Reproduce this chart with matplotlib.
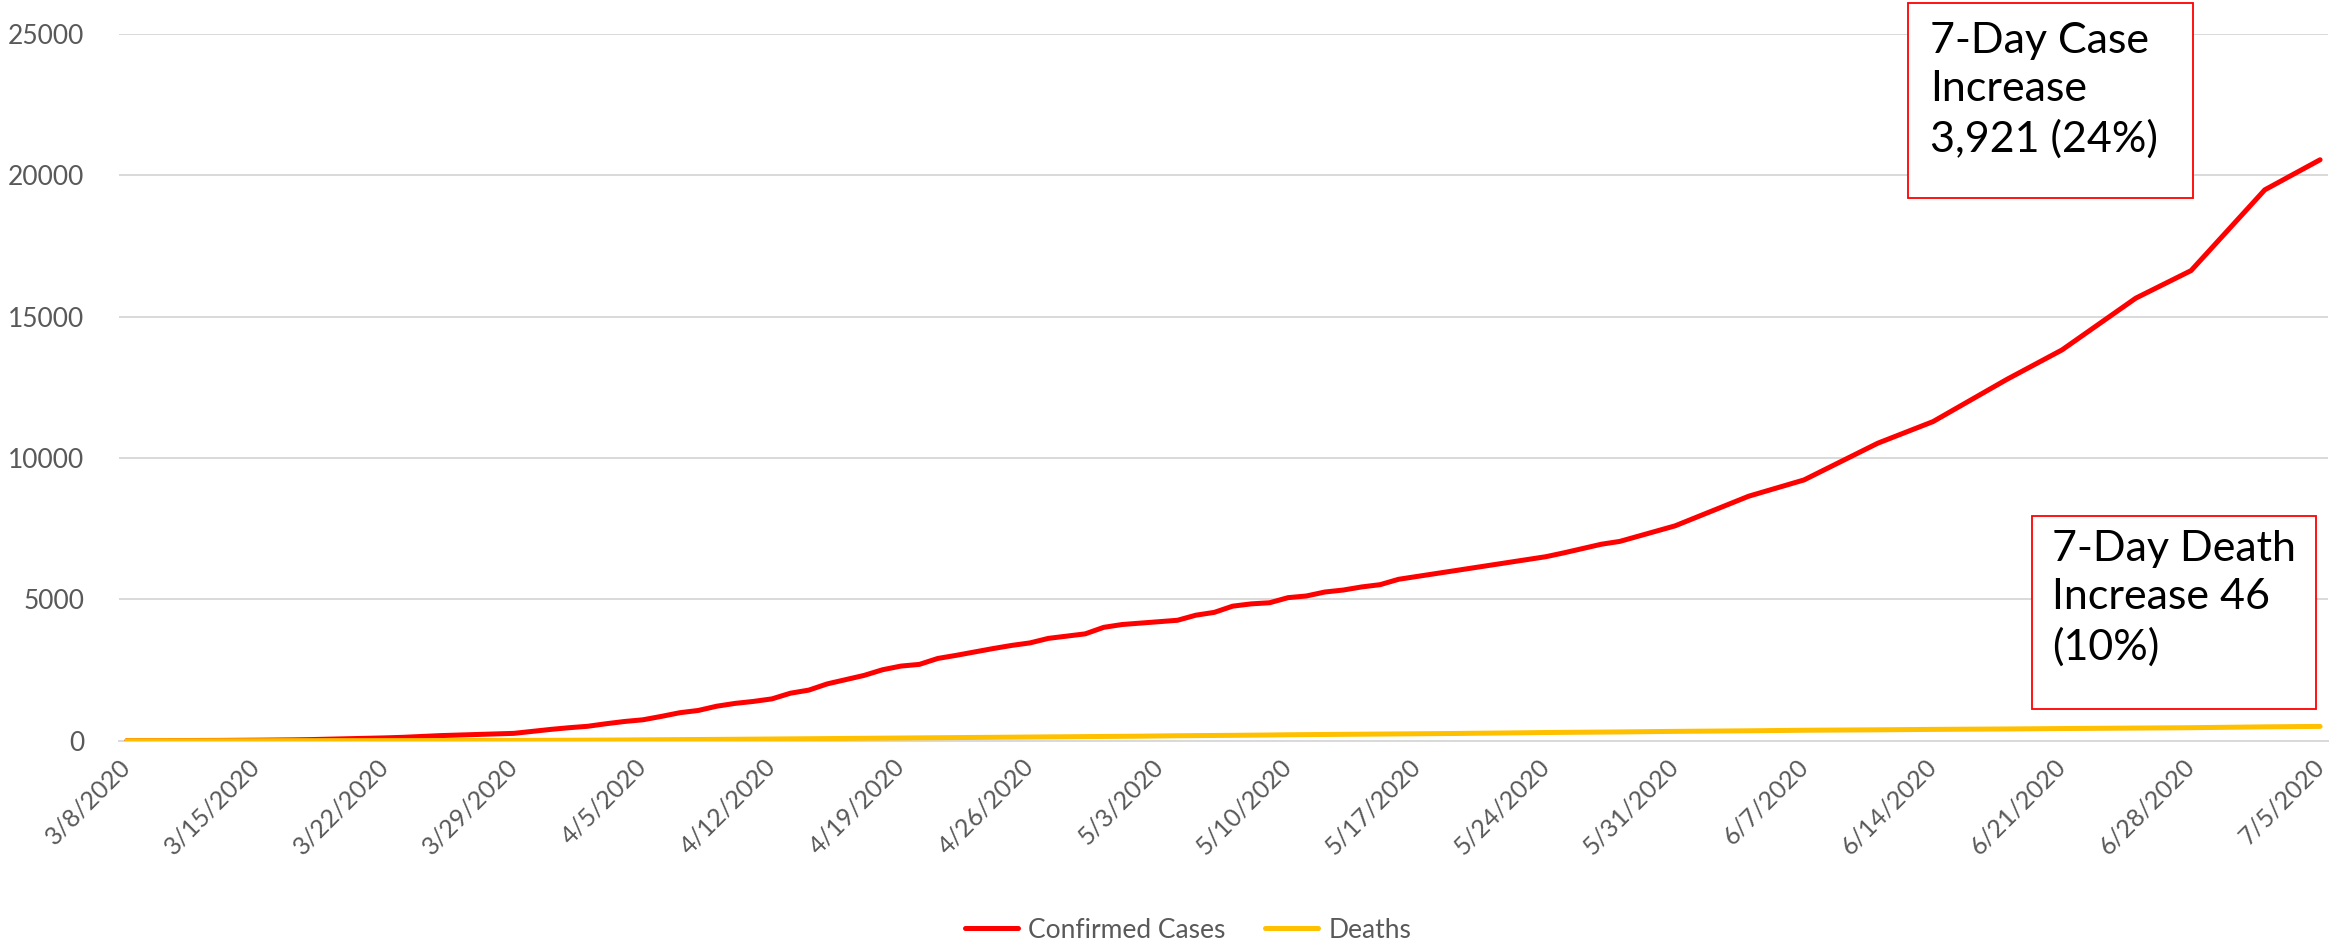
import matplotlib
matplotlib.use("Agg")
import matplotlib.pyplot as plt
import matplotlib.dates as mdates
import matplotlib.transforms as mtransforms
from matplotlib.patches import Rectangle
import pandas as pd

# ---------------- data ----------------
daily_start = "2020-03-08"
daily_cases = [2, 3, 4, 6, 8, 10, 14, 18, 24, 30, 40, 55, 70, 85, 100, 120, 150, 180, 200, 220,
               240, 260, 330, 400, 460, 510, 600, 680, 740, 860, 990, 1070, 1220, 1320, 1390, 1480,
               1680, 1790, 2010, 2160, 2310, 2510, 2640, 2700, 2910, 3020, 3140, 3260, 3370, 3460,
               3620, 3700, 3780, 4010, 4110, 4160, 4210, 4260, 4440, 4540, 4760, 4840, 4880, 5060,
               5120, 5260, 5330, 5440, 5520, 5710, 5810, 5910, 6010, 6110, 6210, 6310, 6410, 6510,
               6650, 6800, 6950, 7050]
daily_deaths = [0, 0, 0, 0, 0, 0, 0, 0, 1, 1, 1, 2, 2, 2, 3, 3, 4, 5, 6, 7,
                8, 10, 12, 14, 16, 19, 22, 25, 30, 34, 38, 42, 46, 50, 55, 60,
                65, 70, 75, 80, 85, 90, 95, 100, 105, 110, 115, 120, 125, 130,
                135, 140, 145, 150, 155, 160, 168, 175, 180, 185, 190, 196, 202, 210,
                215, 220, 225, 230, 235, 240, 245, 250, 255, 262, 268, 275, 282, 290,
                295, 300, 305, 310]
later_dates = ["2020-05-31", "2020-06-04", "2020-06-07", "2020-06-11", "2020-06-14", "2020-06-18",
               "2020-06-21", "2020-06-25", "2020-06-28", "2020-07-02", "2020-07-05"]
later_cases = [7600, 8650, 9225, 10524, 11289, 12780, 13825, 15655, 16630, 19487, 20551]
later_deaths = [330, 350, 370, 385, 400, 415, 430, 447, 460, 490, 506]

tick_start = "2020-03-08"
tick_end = "2020-07-05"
y_ticks = [0, 5000, 10000, 15000, 20000, 25000]
series_names = ["Confirmed Cases", "Deaths"]
series_colors = ["#FF0000", "#FFC000"]
case_note = "7-Day Case\nIncrease\n3,921 (24%)"
death_note = "7-Day Death\nIncrease 46\n(10%)"

# ---------------- build ----------------
dates = list(pd.date_range(daily_start, periods=len(daily_cases), freq="D")) + \
        list(pd.to_datetime(later_dates))
cases = daily_cases + later_cases
deaths = daily_deaths + later_deaths

plt.rcParams['font.family'] = ['Lato', 'DejaVu Sans']
W, H = 2331, 944
fig = plt.figure(figsize=(W / 100, H / 100), dpi=100)

ax_left, ax_right = 119, 2328
ax_top, ax_bottom = 34, 740.7
ax = fig.add_axes([ax_left / W, 1 - ax_bottom / H, (ax_right - ax_left) / W, (ax_bottom - ax_top) / H])

ax.plot(dates, cases, color=series_colors[0], lw=3.6, solid_capstyle='round',
        solid_joinstyle='round', label=series_names[0], zorder=3)
ax.plot(dates, deaths, color=series_colors[1], lw=3.6, solid_capstyle='round',
        solid_joinstyle='round', label=series_names[1], zorder=3)

t0 = mdates.date2num(pd.Timestamp(tick_start))
t1 = mdates.date2num(pd.Timestamp(tick_end))
ax.set_xlim(t0 - 0.43, t1 + 0.43)
ax.set_ylim(0, 25000)

ticks = pd.date_range(tick_start, tick_end, freq="7D")
ax.set_xticks(list(ticks))
labels = ax.set_xticklabels([f"{d.month}/{d.day}/{d.year}" for d in ticks], rotation=45, ha='right',
                            va='center', rotation_mode='anchor', fontsize=18, color='#595959')
shift = mtransforms.ScaledTranslation(-6 / 100, 0, fig.dpi_scale_trans)
for lab in labels:
    lab.set_transform(lab.get_transform() + shift)
ax.set_yticks(y_ticks)
ax.set_yticklabels([str(v) for v in y_ticks], fontsize=19, color='#595959')
ax.tick_params(axis='both', length=0)
ax.tick_params(axis='y', pad=25)
ax.tick_params(axis='x', pad=16)

ax.grid(axis='y', color='#D9D9D9', lw=1.4, zorder=0)
ax.set_axisbelow(True)
for s in ['top', 'right', 'left']:
    ax.spines[s].set_visible(False)
ax.spines['bottom'].set_color('#D9D9D9')
ax.spines['bottom'].set_linewidth(1.4)

leg = fig.legend(loc='center', bbox_to_anchor=(1188 / W, 1 - 930 / H), ncol=2, frameon=False,
                 fontsize=19, handlelength=2.0, columnspacing=1.5, handletextpad=0.4)
for t in leg.get_texts():
    t.set_color('#595959')

def note(x0, y0, x1, y1, text, tx, ty):
    fig.patches.append(Rectangle((x0 / W, 1 - y1 / H), (x1 - x0) / W, (y1 - y0) / H,
                                 transform=fig.transFigure, fill=True, facecolor='white',
                                 edgecolor='#FF0000', lw=1.3, zorder=5))
    fig.text(tx / W, 1 - ty / H, text, fontsize=31, ha='left', va='top', linespacing=1.33,
             color='black', zorder=6)

note(1908, 3, 2193, 198, case_note, 1930, 22)
note(2032, 516, 2316, 709, death_note, 2052, 530)

fig.savefig("out.png", dpi=100, facecolor='white')
